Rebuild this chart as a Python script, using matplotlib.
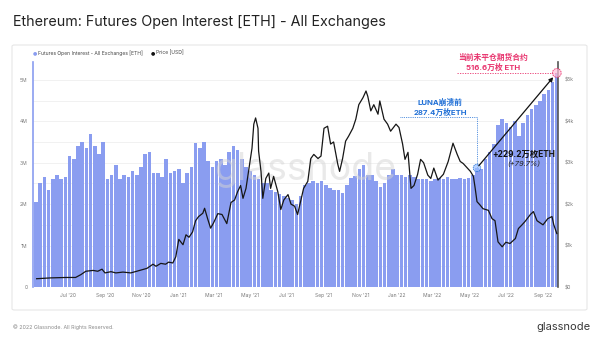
import pandas as pd
import matplotlib
matplotlib.use("Agg")
import matplotlib.pyplot as plt
from matplotlib.patches import FancyBboxPatch
from matplotlib.ticker import FuncFormatter, MultipleLocator

plt.rcParams['font.family'] = ['Inter', 'Noto Sans CJK SC', 'DejaVu Sans']

# 期货未平仓量（百万 ETH），每周一根柱
oi_start = "2020-05-09"
oi_values = [
    2.06, 2.5, 2.65, 2.35, 2.6, 2.7, 2.6, 2.65, 3.15, 3.1,
    3.4, 3.5, 3.35, 3.69, 3.4, 3.2, 3.5, 2.6, 2.7, 2.95,
    2.6, 2.7, 2.65, 2.8, 2.7, 2.9, 3.2, 3.25, 2.75, 2.75,
    2.65, 3.1, 2.75, 2.8, 2.85, 2.5, 2.75, 2.9, 3.47, 3.35,
    3.5, 3.05, 2.9, 3.05, 3.1, 2.95, 3.25, 3.4, 3.3, 3.1,
    2.9, 2.8, 2.7, 2.6, 2.5, 2.5, 2.35, 2.3, 2.25, 2.2,
    2.15, 2.1, 2.0, 2.2, 2.45, 2.5, 2.55, 2.5, 2.55, 2.45,
    2.4, 2.35, 2.35, 2.28, 2.45, 2.62, 2.68, 2.85, 2.95, 2.7,
    2.7, 2.55, 2.42, 2.5, 2.7, 2.85, 2.7, 2.7, 2.65, 2.7,
    2.65, 2.6, 2.6, 2.6, 2.55, 2.6, 2.62, 2.6, 2.65, 2.6,
    2.6, 2.62, 2.6, 2.62, 2.7, 2.874, 2.85, 3.1, 3.25, 3.45,
    3.9, 4.05, 3.95, 3.85, 4.0, 3.65, 3.95, 4.15, 4.3, 4.4,
    4.5, 4.65, 4.75, 4.95, 5.166,
]
luna_idx = 105

# ETH 价格（千美元）
price_dates = [
    "2020-05-10", "2020-06-03", "2020-06-28", "2020-07-14", "2020-07-23", "2020-07-31",
    "2020-08-12", "2020-08-20", "2020-08-27", "2020-09-01", "2020-09-11", "2020-09-19",
    "2020-10-01", "2020-10-14", "2020-10-24", "2020-10-31", "2020-11-10", "2020-11-20",
    "2020-11-25", "2020-12-03", "2020-12-11", "2020-12-16", "2020-12-23", "2020-12-28",
    "2021-01-02", "2021-01-09", "2021-01-14", "2021-01-19", "2021-01-25", "2021-01-30",
    "2021-02-04", "2021-02-11", "2021-02-14", "2021-02-19", "2021-02-24", "2021-03-01",
    "2021-03-08", "2021-03-15", "2021-03-23", "2021-03-30", "2021-04-05", "2021-04-10",
    "2021-04-15", "2021-04-19", "2021-04-24", "2021-04-29", "2021-05-04", "2021-05-07",
    "2021-05-10", "2021-05-14", "2021-05-15", "2021-05-19", "2021-05-22", "2021-05-27",
    "2021-06-01", "2021-06-04", "2021-06-09", "2021-06-16", "2021-06-21", "2021-06-26",
    "2021-07-03", "2021-07-08", "2021-07-14", "2021-07-19", "2021-07-24", "2021-07-29",
    "2021-08-05", "2021-08-10", "2021-08-15", "2021-08-22", "2021-08-27", "2021-09-01",
    "2021-09-07", "2021-09-12", "2021-09-17", "2021-09-24", "2021-09-27", "2021-10-02",
    "2021-10-07", "2021-10-12", "2021-10-19", "2021-10-24", "2021-10-29", "2021-11-05",
    "2021-11-10", "2021-11-13", "2021-11-18", "2021-11-23", "2021-11-30", "2021-12-03",
    "2021-12-10", "2021-12-16", "2021-12-21", "2021-12-30", "2022-01-04", "2022-01-10",
    "2022-01-14", "2022-01-19", "2022-01-24", "2022-01-29", "2022-02-04", "2022-02-09",
    "2022-02-14", "2022-02-21", "2022-02-26", "2022-03-03", "2022-03-10", "2022-03-19",
    "2022-03-27", "2022-04-04", "2022-04-11", "2022-04-16", "2022-04-21", "2022-04-28",
    "2022-05-03", "2022-05-08", "2022-05-11", "2022-05-14", "2022-05-19", "2022-05-24",
    "2022-06-02", "2022-06-08", "2022-06-13", "2022-06-18", "2022-06-25", "2022-07-01",
    "2022-07-08", "2022-07-17", "2022-07-22", "2022-07-28", "2022-08-02", "2022-08-11",
    "2022-08-16", "2022-08-22", "2022-09-01", "2022-09-09", "2022-09-16", "2022-09-19",
    "2022-09-24",
]
price_values = [
    0.2, 0.22, 0.23, 0.23, 0.3, 0.38, 0.4, 0.38, 0.43, 0.34,
    0.37, 0.34, 0.36, 0.34, 0.38, 0.41, 0.45, 0.55, 0.5, 0.57,
    0.55, 0.6, 0.58, 0.73, 1.15, 1.02, 1.26, 1.2, 1.33, 1.6,
    1.7, 1.78, 1.9, 1.65, 1.42, 1.55, 1.77, 1.75, 1.53, 2.04,
    2.1, 2.3, 2.45, 2.14, 2.38, 2.87, 3.35, 3.93, 4.08, 3.83,
    3.28, 2.79, 2.14, 2.62, 2.75, 2.38, 2.67, 2.3, 1.87, 2.1,
    2.23, 2.0, 1.95, 1.75, 2.06, 2.38, 2.55, 3.1, 3.2, 3.1,
    3.16, 3.83, 3.88, 3.45, 3.5, 2.96, 2.79, 3.1, 3.52, 3.64,
    3.83, 4.05, 4.4, 4.57, 4.73, 4.6, 4.25, 4.4, 4.17, 4.49,
    4.05, 3.93, 3.76, 3.93, 3.85, 3.45, 3.08, 3.25, 2.38, 2.45,
    2.72, 3.08, 3.0, 2.7, 2.62, 2.87, 2.58, 2.72, 3.03, 3.47,
    3.2, 3.03, 2.98, 2.87, 2.79, 2.67, 2.38, 2.06, 1.98, 1.89,
    1.85, 1.65, 1.6, 1.09, 0.97, 1.08, 1.05, 1.17, 1.41, 1.5,
    1.58, 1.75, 1.82, 1.6, 1.5, 1.65, 1.7, 1.5, 1.29,
]

x_ticks = ["2020-07-01", "2020-09-01", "2020-11-01", "2021-01-01", "2021-03-01",
           "2021-05-01", "2021-07-01", "2021-09-01", "2021-11-01", "2022-01-01",
           "2022-03-01", "2022-05-01", "2022-07-01", "2022-09-01"]
x_labels = ["Jul '20", "Sep '20", "Nov '20", "Jan '21", "Mar '21", "May '21", "Jul '21",
            "Sep '21", "Nov '21", "Jan '22", "Mar '22", "May '22", "Jul '22", "Sep '22"]

BAR = '#8a9df0'
PINK = '#e8336d'
BLUE = '#1f6fd6'

oi_dates = pd.date_range(oi_start, periods=len(oi_values), freq="7D")
oi = [v * 1e6 for v in oi_values]
pdates = pd.to_datetime(price_dates)
price = [v * 1000 for v in price_values]

W, H = 600, 345
fig = plt.figure(figsize=(W / 100, H / 100), dpi=100, facecolor='white')

def fx(px):
    return px / W

def fy(py):
    return (H - py) / H

card = FancyBboxPatch((fx(12), fy(310)), fx(575), 265 / H, boxstyle="round,pad=0,rounding_size=0.004",
                      transform=fig.transFigure, facecolor='white', edgecolor='#e6e6e6', lw=0.8,
                      zorder=-10)
fig.patches.append(card)

fig.text(fx(13), fy(22), "Ethereum: Futures Open Interest [ETH] - All Exchanges",
         fontsize=10.3, color='#222222', va='center')

# 图例
fig.text(fx(35), fy(53), "\u25CF", color=BAR, fontsize=3.6, va='center', ha='center', family='DejaVu Sans')
fig.text(fx(38), fy(53), "Futures Open Interest - All Exchanges [ETH]", fontsize=3.6,
         color='#444444', va='center')
fig.text(fx(153), fy(53), "\u25CF", color='#111111', fontsize=3.6, va='center', ha='center', family='DejaVu Sans')
fig.text(fx(156), fy(53), "Price [USD]", fontsize=3.6, color='#444444', va='center')

ax = fig.add_axes([fx(33), fy(287), 525 / W, 225 / H])
ax.set_facecolor('none')
ymax = 5.43e6
ax.set_ylim(0, ymax)
ax.set_xlim(pd.Timestamp("2020-05-04"), pd.Timestamp("2022-09-26"))

ax.bar(oi_dates, oi, width=6.3, color=BAR, align='center', zorder=2, linewidth=0)

ax.yaxis.set_major_locator(MultipleLocator(1e6))
ax.yaxis.set_minor_locator(MultipleLocator(0.5e6))
ax.yaxis.set_major_formatter(FuncFormatter(lambda v, p: "0" if v == 0 else f"{v / 1e6:.0f}M"))
ax.grid(axis='y', which='both', color='#efefef', lw=0.6, zorder=0)
ax.set_axisbelow(True)
ax.set_xticks(pd.to_datetime(x_ticks))
ax.set_xticklabels(x_labels)
ax.tick_params(axis='both', which='both', length=0, labelsize=3.6, colors='#777777')
ax.tick_params(axis='x', pad=4)
ax.tick_params(axis='y', pad=4)
for s in ['top', 'right', 'bottom']:
    ax.spines[s].set_visible(False)
ax.spines['left'].set_color(BAR)
ax.spines['left'].set_linewidth(1.2)

# 水印
ax.text(fx(305), fy(170), "glassnode", transform=fig.transFigure, fontsize=27, color='#d4d4d4',
        alpha=0.5, ha='center', va='center', zorder=3)

ax2 = ax.twinx()
ax2.set_ylim(0, ymax / 1000)
ax2.plot(pdates, price, color='#161616', lw=0.9, zorder=4)
ax2.yaxis.set_major_locator(MultipleLocator(1000))
ax2.yaxis.set_major_formatter(FuncFormatter(lambda v, p: "$0" if v == 0 else f"${v / 1000:.0f}k"))
ax2.tick_params(axis='y', length=0, labelsize=3.6, colors='#777777', pad=5)
for s in ['top', 'left', 'bottom']:
    ax2.spines[s].set_visible(False)
ax2.spines['right'].set_color('#555555')
ax2.spines['right'].set_linewidth(1.2)

# 标注：当前未平仓量
now_date, now_val = oi_dates[-1], oi[-1]
luna_date, luna_val = oi_dates[luna_idx], oi[luna_idx]
ax2.scatter([now_date], [now_val / 1000], s=40, facecolor=(1.0, 0.75, 0.85, 0.7), edgecolor=PINK,
            lw=0.6, linestyle=(0, (2, 1)), zorder=6, clip_on=False)
ax2.plot([pd.Timestamp("2022-04-10"), now_date], [now_val / 1000, now_val / 1000], color=PINK, lw=0.6,
         ls=(0, (1.5, 1.5)), zorder=5, clip_on=False)
fig.text(fx(493), fy(62), f"当前未平仓期货合约\n{now_val / 1e4:.1f}万枚 ETH", fontsize=5.6,
         weight='bold', color=PINK, ha='center', va='center', linespacing=1.25)

# 标注：LUNA 崩溃前
luna_level = 4.1e6
ax2.scatter([luna_date], [luna_val / 1000], s=30, facecolor=(0.6, 0.75, 1.0, 0.7), edgecolor=BLUE,
            lw=0.5, linestyle=(0, (2, 1)), zorder=6)
ax2.plot([pd.Timestamp("2022-01-06"), luna_date, luna_date],
         [luna_level / 1000, luna_level / 1000, luna_val / 1000],
         color=BLUE, lw=0.6, ls=(0, (1, 1.2)), zorder=5)
fig.text(fx(440), fy(107), f"LUNA崩溃前\n{luna_val / 1e4:.1f}万枚ETH", fontsize=5.6,
         weight='bold', color=BLUE, ha='center', va='center', linespacing=1.25)

# 箭头与增量
ax2.annotate("", xy=(now_date, now_val / 1000), xytext=(luna_date, luna_val / 1000),
             arrowprops=dict(arrowstyle='-|>', color='#111111', lw=0.9, mutation_scale=6,
                             shrinkA=2, shrinkB=4), zorder=7)
diff = now_val - luna_val
fig.text(fx(524), fy(154), f"+{diff / 1e4:.1f}万枚ETH", fontsize=6, weight='bold',
         color='#111111', ha='center', va='center')
fig.text(fx(524), fy(163.5), f"(+{diff / luna_val * 100:.1f}%)", fontsize=5.4, style='italic',
         color='#222222', ha='center', va='center')

# 页脚
fig.text(fx(13), fy(327), "\u00a9 2022 Glassnode. All Rights Reserved.", fontsize=3.8,
         color='#8a8a8a', va='center')
fig.text(fx(563), fy(327), "glassnode", fontsize=8, color='#3a3a3a', va='center', ha='center')

fig.savefig("out.png", dpi=100, facecolor='white')
